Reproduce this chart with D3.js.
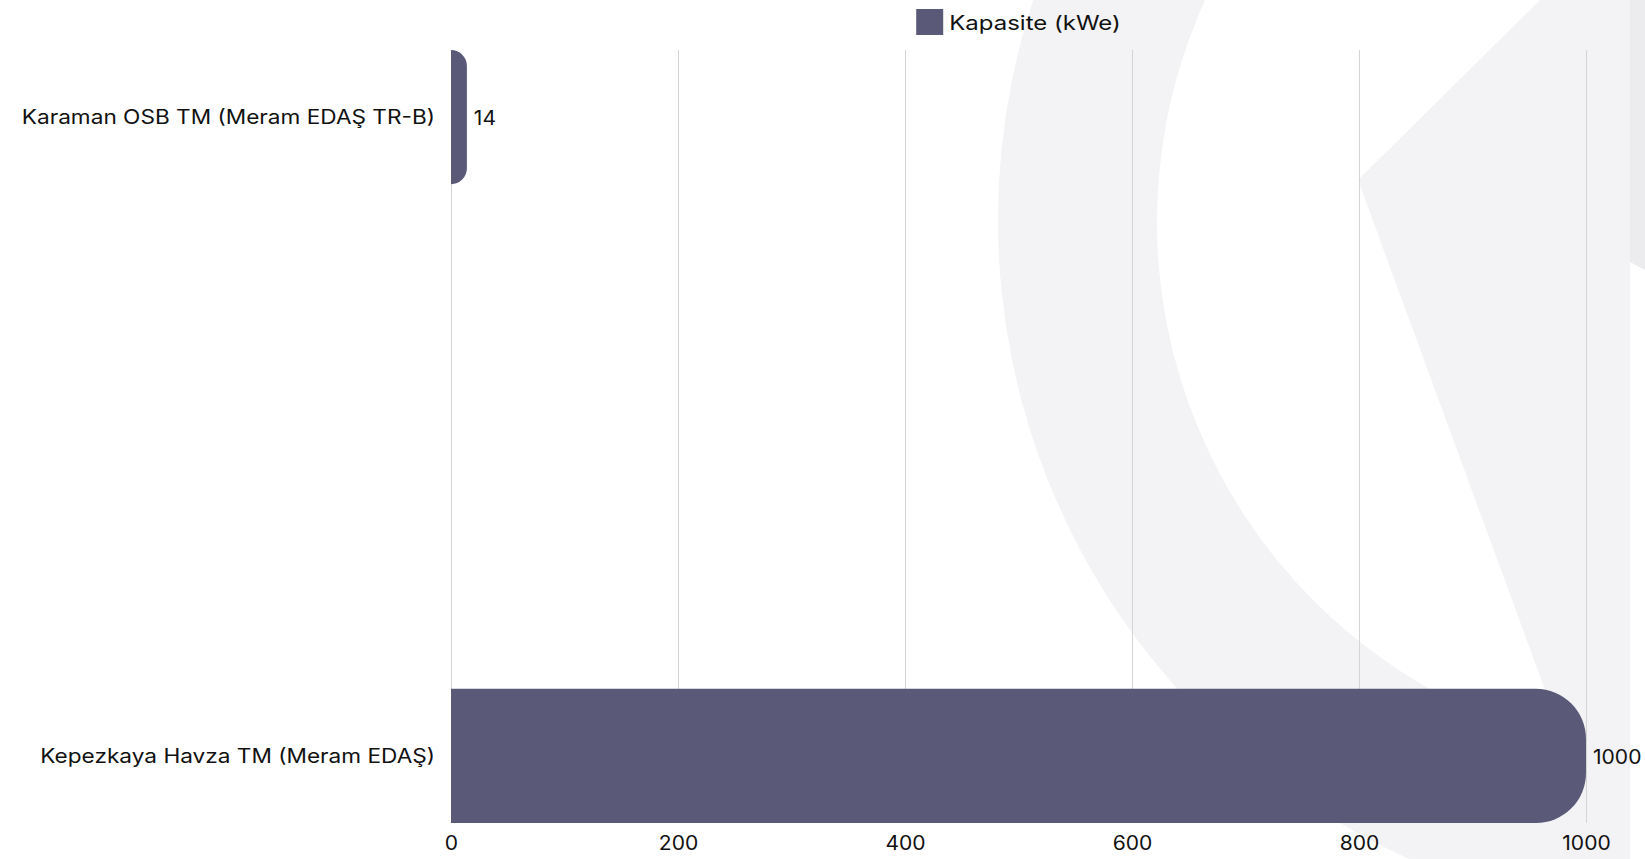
<!DOCTYPE html>
<html>
<head>
<meta charset="utf-8">
<script src="https://cdn.jsdelivr.net/npm/d3@7"></script>
<style>
  html, body { margin: 0; padding: 0; background: #ffffff; }
  svg { display: block; }
  text { font-family: Inter, "Open Sans", sans-serif; fill: #111; }
</style>
</head>
<body>
<svg id="chart" width="1645" height="859"></svg>
<script>
// ---- data ----
const categories = ["Karaman OSB TM (Meram EDAŞ TR-B)", "Kepezkaya Havza TM (Meram EDAŞ)"];
const capacity = [14, 1000];
const seriesName = "Kapasite (kWe)";
const xTicks = [0, 200, 400, 600, 800, 1000];

// ---- layout ----
const W = 1645, H = 859;
const plot = { left: 451, right: 1586, top: 50, bottom: 823 };
const barColor = "#5a5a78";
const wmColor = "#f3f3f5";
const fontSize = 19.5;

// horizontal widening to mimic the wide geometric face of the original
function widen(sel, k) {
  sel.each(function () {
    const n = this.getComputedTextLength();
    d3.select(this).attr("textLength", n * k).attr("lengthAdjust", "spacingAndGlyphs");
  });
}

const svg = d3.select("#chart");
svg.append("rect").attr("width", W).attr("height", H).attr("fill", "#fff");

// ---- watermark background ----
const wm = svg.append("g");
svg.append("clipPath").attr("id", "wmclip").append("rect")
  .attr("x", 0).attr("y", 0).attr("width", 1630).attr("height", H);
const wmg = wm.append("g").attr("clip-path", "url(#wmclip)");
const ring = d3.path();
ring.moveTo(1700 + 702, 220); ring.arc(1700, 220, 702, 0, 2 * Math.PI);
ring.moveTo(1693 + 536, 222); ring.arc(1693, 222, 536, 0, 2 * Math.PI);
wmg.append("path").attr("d", ring.toString()).attr("fill", wmColor).attr("fill-rule", "evenodd");
wmg.append("path")
  .attr("d", "M1540,0 L1358,180 L1607,859 L1630,859 L1630,0 Z")
  .attr("fill", wmColor);
wm.append("path").attr("d", "M1630,0 L1645,0 L1645,270 L1630,262 Z").attr("fill", "#ececef");

// ---- scales ----
const x = d3.scaleLinear().domain([0, 1000]).range([plot.left, plot.right]);
const y = d3.scaleBand().domain(categories).range([plot.top, plot.bottom])
  .paddingInner(0.79).paddingOuter(0);

// ---- grid + x axis ----
const xAxis = d3.axisBottom(x).tickValues(xTicks).tickSize(-(plot.bottom - plot.top)).tickPadding(10)
  .tickFormat(d3.format("d"));
const gx = svg.append("g").attr("transform", `translate(0,${plot.bottom})`).call(xAxis);
gx.select(".domain").remove();
gx.selectAll(".tick line").attr("stroke", "#d4d4d4").attr("stroke-width", 1);
gx.selectAll(".tick text").attr("font-size", fontSize).attr("fill", "#111")
  .attr("font-family", "Inter, 'Open Sans', sans-serif").attr("dy", "0.71em").attr("y", 13);
widen(gx.selectAll(".tick text"), 1.08);

// ---- y axis labels ----
const yAxis = d3.axisLeft(y).tickSize(0).tickPadding(16);
const gy = svg.append("g").attr("transform", `translate(${plot.left},0)`).call(yAxis);
gy.select(".domain").remove();
gy.selectAll(".tick text").attr("font-size", fontSize).attr("fill", "#111")
  .attr("font-family", "Inter, 'Open Sans', sans-serif").attr("y", 1);
widen(gy.selectAll(".tick text"), 1.16);

// ---- bars ----
function barPath(x0, x1, y0, h, rMax) {
  const w = x1 - x0;
  const r = Math.max(0, Math.min(rMax, w, h / 2));
  const p = d3.path();
  p.moveTo(x0, y0);
  p.lineTo(x1 - r, y0);
  p.arcTo(x1, y0, x1, y0 + r, r);
  p.lineTo(x1, y0 + h - r);
  p.arcTo(x1, y0 + h, x1 - r, y0 + h, r);
  p.lineTo(x0, y0 + h);
  p.closePath();
  return p.toString();
}
const data = categories.map((c, i) => ({ c, v: capacity[i] }));
svg.append("g").selectAll("path").data(data).join("path")
  .attr("d", d => barPath(x(0), x(d.v), y(d.c), y.bandwidth(), 50))
  .attr("fill", barColor);

// ---- value labels ----
const vl = svg.append("g").selectAll("text").data(data).join("text")
  .attr("x", d => x(d.v) + 7)
  .attr("y", d => y(d.c) + y.bandwidth() / 2 + 1)
  .attr("dy", "0.35em")
  .attr("font-size", fontSize)
  .text(d => d.v);
widen(vl, 1.08);

// ---- legend ----
const lg = svg.append("g");
const lt = lg.append("text").attr("x", 33).attr("y", 23).attr("dy", "0.35em")
  .attr("font-size", fontSize).text(seriesName);
widen(lt, 1.23);
const tw = +lt.attr("textLength");
lg.append("rect").attr("x", 0).attr("y", 9).attr("width", 27).attr("height", 26).attr("fill", barColor);
const lw = 33 + tw;
lg.attr("transform", `translate(${(plot.left + plot.right) / 2 - lw / 2},0)`);
</script>
</body>
</html>
